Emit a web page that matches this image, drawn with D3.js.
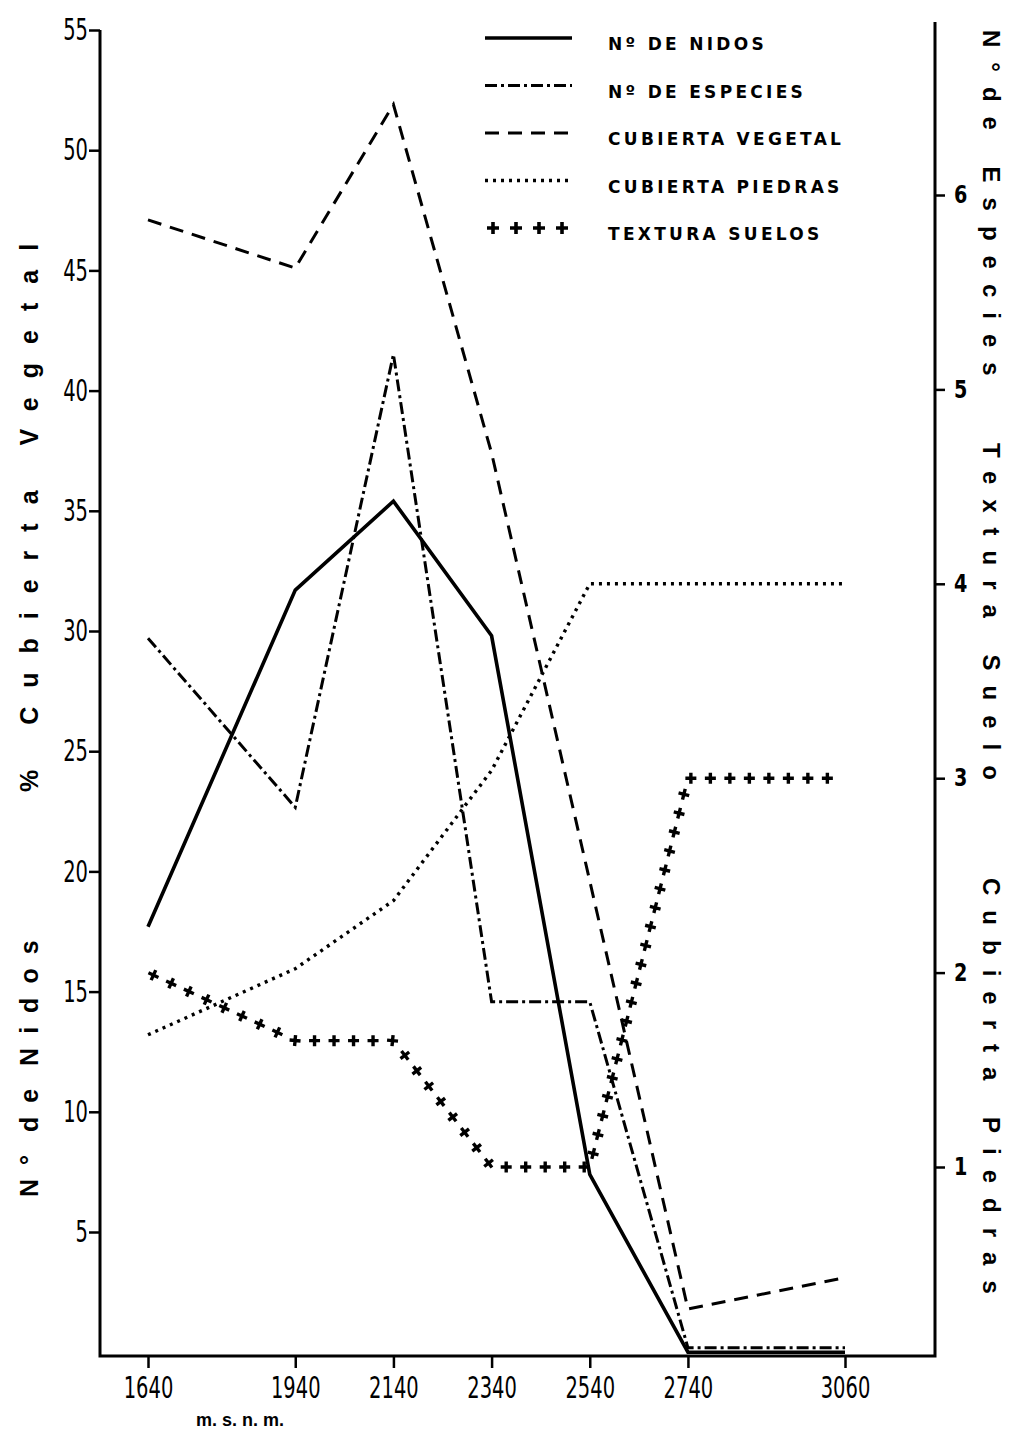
<!DOCTYPE html>
<html>
<head>
<meta charset="utf-8">
<script src="https://cdn.jsdelivr.net/npm/d3@7"></script>
<style>
  body { margin: 0; background: #fff; }
  svg { display: block; }
</style>
</head>
<body>
<div id="chart"></div>
<script>
// values
var elevations = [1640, 1940, 2140, 2340, 2540, 2740, 3060];
var nidos      = [17.7, 31.7, 35.4, 29.8, 7.4, 0, 0];
var vegetal    = [47.1, 45.1, 51.9, 37.4, 19.6, 1.8, 3.1];
var especies   = [3.72, 2.85, 5.18, 1.85, 1.85, 0.07, 0.07];
var piedras    = [1.68, 2.02, 2.37, 3.04, 4.0, 4.0, 4.0];
var textura    = [2.0, 1.65, 1.65, 1.0, 1.0, 3.0, 3.0];

var leftTicks  = [5, 10, 15, 20, 25, 30, 35, 40, 45, 50, 55];
var rightTicks = [1, 2, 3, 4, 5, 6];

var legendLabels = ["Nº DE NIDOS", "Nº DE ESPECIES", "CUBIERTA VEGETAL", "CUBIERTA PIEDRAS", "TEXTURA SUELOS"];
var leftTitles   = ["N° de Nidos", "% Cubierta Vegetal"];
var rightTitles  = ["N°de Especies", "Textura Suelo", "Cubierta Piedras"];
var xTitle       = "m. s. n. m.";

var svgWidth = 1021;
var svgHeight = 1436;
var frame = { left: 100, right: 935, top: 30, bottom: 1356 };

var tickFont = "'DejaVu Sans', sans-serif";
var titleFont = "'Liberation Sans', Arial, sans-serif";
var squeeze = 0.65; // the scanned digits are tall and narrow

var svg = d3.select("#chart")
    .append("svg")
    .attr("width", svgWidth)
    .attr("height", svgHeight);

// scales
var x = d3.scaleLinear().domain([1640, 3060]).range([148, 845]);
var yLeft = d3.scaleLinear().domain([5, 55]).range([1232, 30]);
var yRight = d3.scaleLinear().domain([1, 6]).range([1167, 195]);

// frame (no top line)
svg.append("path")
    .attr("d", `M${frame.left},${frame.top}V${frame.bottom}H${frame.right}V22`)
    .attr("fill", "none")
    .attr("stroke", "#000")
    .attr("stroke-width", 3);

// axes
var leftAxis = svg.append("g")
    .attr("transform", `translate(${frame.left},0)`)
    .call(d3.axisLeft(yLeft).tickValues(leftTicks).tickSize(11).tickPadding(1).tickFormat(d3.format("d")));

var rightAxis = svg.append("g")
    .attr("transform", `translate(${frame.right},0)`)
    .call(d3.axisRight(yRight).tickValues(rightTicks).tickSize(10).tickPadding(9).tickFormat(d3.format("d")));

var bottomAxis = svg.append("g")
    .attr("transform", `translate(0,${frame.bottom})`)
    .call(d3.axisBottom(x).tickValues(elevations).tickSize(12).tickPadding(9).tickFormat(d3.format("d")));

[leftAxis, rightAxis, bottomAxis].forEach(function(g) {
    g.select(".domain").remove();
    g.selectAll(".tick line").attr("stroke-width", 2.5);
    g.selectAll(".tick text").attr("fill", "#000");
});
leftAxis.attr("font-family", tickFont).attr("font-size", 30);
leftAxis.selectAll(".tick text")
    .attr("x", -12 / squeeze)
    .attr("transform", `scale(${squeeze},1)`);
bottomAxis.attr("font-family", tickFont).attr("font-size", 30);
bottomAxis.selectAll(".tick text")
    .attr("transform", `scale(${squeeze},1)`);
rightAxis.attr("font-family", tickFont).attr("font-size", 24).attr("font-weight", "bold");
rightAxis.selectAll(".tick text")
    .attr("x", 19 / 0.8)
    .attr("transform", "scale(0.8,1)");

// series
var lineL = d3.line().x(function(d, i) { return x(elevations[i]); }).y(function(d) { return yLeft(d); });
var lineR = d3.line().x(function(d, i) { return x(elevations[i]); }).y(function(d) { return yRight(d); });

var series = [
    { values: nidos,    line: lineL, dash: null,           width: 3.6 },
    { values: especies, line: lineR, dash: "12,4,3,4",     width: 3 },
    { values: vegetal,  line: lineL, dash: "14,9",         width: 3 },
    { values: piedras,  line: lineR, dash: "3,5",          width: 3.4 },
    { values: textura,  line: lineR, dash: "plus",         width: 3.4 }
];

var plusPath = "M-5.5,0H5.5M0,-5.5V5.5";

series.forEach(function(s) {
    var p = svg.append("path")
        .attr("d", s.line(s.values))
        .attr("fill", "none");
    if (s.dash === "plus") {
        // textura is drawn as a row of crosses along its line
        p.attr("stroke", "none");
        var node = p.node();
        var total = node.getTotalLength();
        var marks = d3.range(6, total, 19.5).map(function(l) {
            var a = node.getPointAtLength(l);
            var b = node.getPointAtLength(Math.min(l + 1, total));
            var ang = Math.atan2(b.y - a.y, b.x - a.x) * 180 / Math.PI;
            return { x: a.x, y: a.y, ang: ang };
        });
        svg.append("g").selectAll("path")
            .data(marks)
            .enter()
            .append("path")
            .attr("d", plusPath)
            .attr("transform", function(d) { return `translate(${d.x},${d.y}) rotate(${d.ang})`; })
            .attr("stroke", "#000")
            .attr("stroke-width", s.width);
    } else {
        p.attr("stroke", "#000")
            .attr("stroke-width", s.width)
            .attr("stroke-dasharray", s.dash);
    }
});

// legend
var legendY = d3.scaleLinear().domain([0, 4]).range([38, 228]);
var legend = svg.append("g");
series.forEach(function(s, i) {
    var ly = legendY(i);
    if (s.dash === "plus") {
        legend.selectAll(null)
            .data([493, 516, 539, 562])
            .enter()
            .append("path")
            .attr("d", "M-6,0H6M0,-6V6")
            .attr("transform", function(d) { return `translate(${d},${ly})`; })
            .attr("stroke", "#000")
            .attr("stroke-width", 3.6);
    } else {
        legend.append("line")
            .attr("x1", 485).attr("x2", 572)
            .attr("y1", ly).attr("y2", ly)
            .attr("stroke", "#000")
            .attr("stroke-width", s.width)
            .attr("stroke-dasharray", s.dash);
    }
    legend.append("text")
        .attr("x", 608)
        .attr("y", ly + 12)
        .attr("font-family", "'DejaVu Sans', sans-serif")
        .attr("font-weight", "bold")
        .attr("font-size", 17)
        .attr("letter-spacing", 3.3)
        .text(legendLabels[i]);
});

// axis titles
var leftTitleY = [1197, 792];
var leftSpacing = [14, 19];
leftTitles.forEach(function(t, i) {
    svg.append("text")
        .attr("transform", `translate(38,${leftTitleY[i]}) rotate(-90)`)
        .attr("font-family", titleFont)
        .attr("font-weight", "bold")
        .attr("font-size", 25)
        .attr("letter-spacing", leftSpacing[i])
        .attr("word-spacing", i === 0 ? -12 : 0)
        .text(t);
});

var rightTitleY = [30, 443, 878];
rightTitles.forEach(function(t, i) {
    svg.append("text")
        .attr("transform", `translate(983,${rightTitleY[i]}) rotate(90)`)
        .attr("font-family", titleFont)
        .attr("font-weight", "bold")
        .attr("font-size", 24)
        .attr("letter-spacing", 15)
        .text(t);
});

svg.append("text")
    .attr("x", 240)
    .attr("y", 1426)
    .attr("text-anchor", "middle")
    .attr("font-family", titleFont)
    .attr("font-weight", "bold")
    .attr("font-size", 18)
    .text(xTitle);
</script>
</body>
</html>
